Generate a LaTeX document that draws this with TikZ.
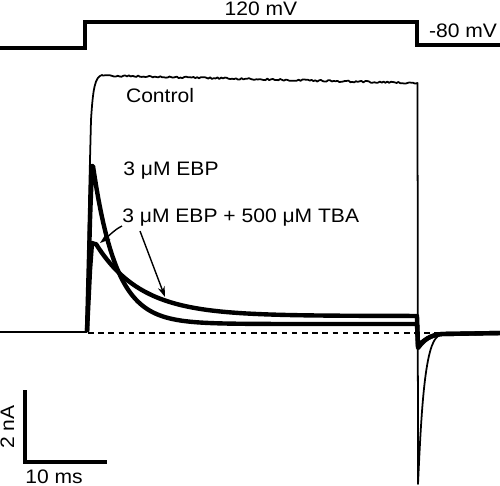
\documentclass[tikz,border=0pt]{standalone}
\usepackage{fontspec}
\setmainfont{Liberation Sans}[FakeStretch=1.08]
\usetikzlibrary{arrows.meta}
\begin{document}
\begin{tikzpicture}[x=0.02cm,y=-0.02cm,
  lbl/.style={font=\fontsize{11.1}{12}\selectfont, inner sep=0pt},
  trace/.style={line width=2.5pt, line join=round},
  thintrace/.style={line width=1.0pt, line join=round},
  ptr/.style={line width=0.8pt, -{Stealth[length=6pt,width=4pt]}},
  bar/.style={line width=1.9pt},
  volt/.style={line width=2.1pt, line join=miter}]
\useasboundingbox (0,0) rectangle (500,485);
\pgfmathsetseed{11}
% voltage protocol
\draw[volt] (0,48) -- (85,48) -- (85,22) -- (417,22) -- (417,45) -- (500,45);
\node[lbl, anchor=base] (v1) at (261,15) {120 mV};
\node[lbl, anchor=base] (v2) at (463,37) {-80 mV};
% baseline and zero line
\draw[thintrace] (0,332) -- (87,332);
\draw[line width=0.8pt, dash pattern=on 3.2pt off 2.6pt] (88,333) -- (500,333);
% control trace
\draw[thintrace] (87,332) -- (89,200) -- (91,120) .. controls (93,88) and (95,77) .. (102,75)
  -- plot[domain=103:415, samples=170] (\x, {75.5+7.5*(\x-102)/313+0.9*rand})
  -- (417.5,83) -- (418,484) .. controls (421,420) and (424,352) .. (436,338)
  -- plot[domain=440:500, samples=30] (\x, {334+0.5*rand});
% EBP + TBA trace
\draw[trace] (87,332) -- (90,270) -- (92,243) -- (95,244)
  -- plot[domain=96:415, samples=120] (\x, {316-72*exp(-(\x-96)/45)})
  -- (417,316) -- (418,346) .. controls (424,340) and (430,335) .. (442,334) -- (500,333);
% EBP trace
\draw[trace] (87,332) -- (90,220) -- (92,166) -- (93,166)
  -- plot[domain=94:415, samples=140] (\x, {324-158*exp(-(\x-93)/23)})
  -- (417,324) -- (418,348) .. controls (424,340) and (430,335) .. (442,334) -- (500,333);
% labels
\node[lbl, anchor=base] (ctl) at (160,102) {Control};
\node[lbl, anchor=base west] (ebp) at (123,175) {3 μM EBP};
\node[lbl, anchor=base west] (tba) at (122,222) {3 μM EBP + 500 μM TBA};
% pointer arrows
\coordinate (p1s) at (122,226);
\coordinate (p1e) at (100,243);
\coordinate (p2s) at (140,231);
\coordinate (p2e) at (165,297);
\draw[ptr] (p1s) .. controls (114,230) and (110,235) .. (p1e);
\draw[ptr] (p2s) -- (p2e);
% scale bars
\coordinate (sbt) at (25,390);
\coordinate (sbc) at (25,462);
\coordinate (sbr) at (107,462);
\draw[bar] (sbt) -- (sbc) -- (sbr);
\node[lbl, anchor=base, rotate=90] (na) at (14,427) {2 nA};
\node[lbl, anchor=base] (ms) at (54,483) {10 ms};
\end{tikzpicture}
\end{document}
